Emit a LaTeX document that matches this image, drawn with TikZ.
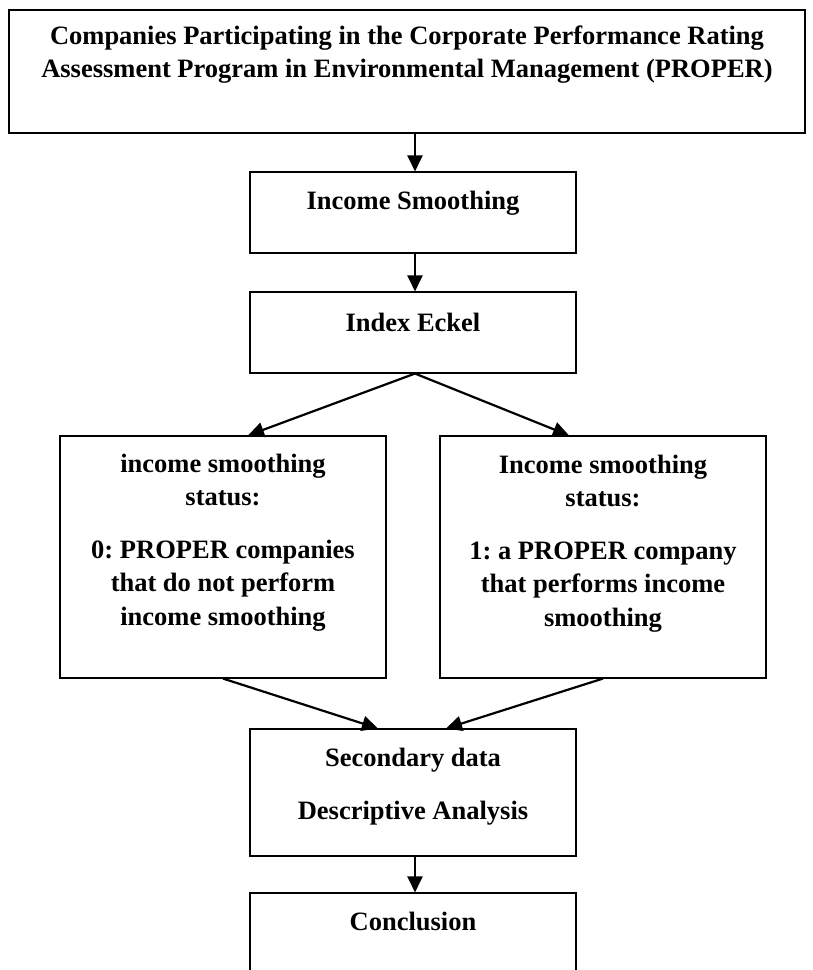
\documentclass[tikz,border=0pt]{standalone}
\usepackage{fontspec}
\setmainfont{Liberation Serif}
\frenchspacing
\usetikzlibrary{arrows.meta}

\begin{document}
\begin{tikzpicture}[x=1pt, y=-1pt, >={Triangle[length=16pt,width=15pt]},
  box/.style={draw, line width=1.1pt, inner sep=0pt, minimum width=326pt},
  txt/.style={anchor=north, inner sep=0pt, align=center, font=\bfseries\fontsize{26.5}{33.5}\selectfont},
  flow/.style={->, line width=2.2pt}]
  \path[use as bounding box, clip] (0,0) rectangle (812,970);
  % boxes
  \node[box, minimum width=796pt, minimum height=123pt] (prop) at (407,71.5) {};
  \node[box, minimum height=81pt] (ism) at (413,212.5) {};
  \node[box, minimum height=81pt] (eck) at (413,332.5) {};
  \node[box, minimum height=242pt] (lft) at (223,557) {};
  \node[box, minimum height=242pt] (rgt) at (603,557) {};
  \node[box, minimum height=127pt] (sec) at (413,792.5) {};
  \node[box, minimum height=120pt] (conc) at (413,953) {};
  % texts
  \node[txt] (prop-t) at ([yshift=-16pt]prop.north) {Companies Participating in the Corporate Performance Rating\\Assessment Program in Environmental Management (PROPER)};
  \node[txt] (ism-t) at ([yshift=-19pt]ism.north) {Income Smoothing};
  \node[txt] (eck-t) at ([yshift=-21pt]eck.north) {Index Eckel};
  \node[txt] (lft-t) at ([yshift=-18pt]lft.north) {income smoothing\\status:\\[19pt]0: PROPER companies\\that do not perform\\income smoothing};
  \node[txt] (rgt-t) at ([yshift=-19pt]rgt.north) {Income smoothing\\status:\\[19pt]1: a PROPER company\\that performs income\\smoothing};
  \node[txt] (sec-t) at ([yshift=-19pt]sec.north) {Secondary data\\[20pt]Descriptive Analysis};
  \node[txt] (conc-t) at ([yshift=-19pt]conc.north) {Conclusion};
  % arrows
  \draw[flow] ([xshift=2pt]prop.south -| ism.north) -- ([xshift=2pt]ism.north); \draw[flow] ([xshift=2pt]ism.south) -- ([xshift=2pt]eck.north);
  \draw[flow] ([xshift=2pt]eck.south) -- ([xshift=25pt]lft.north); \draw[flow] ([xshift=2pt]eck.south) -- ([xshift=-34pt]rgt.north);
  \draw[flow] (lft.south) -- ([xshift=-35pt]sec.north); \draw[flow] (rgt.south) -- ([xshift=33pt]sec.north);
  \draw[flow] ([xshift=2pt]sec.south) -- ([xshift=2pt]conc.north);
\end{tikzpicture}
\end{document}
